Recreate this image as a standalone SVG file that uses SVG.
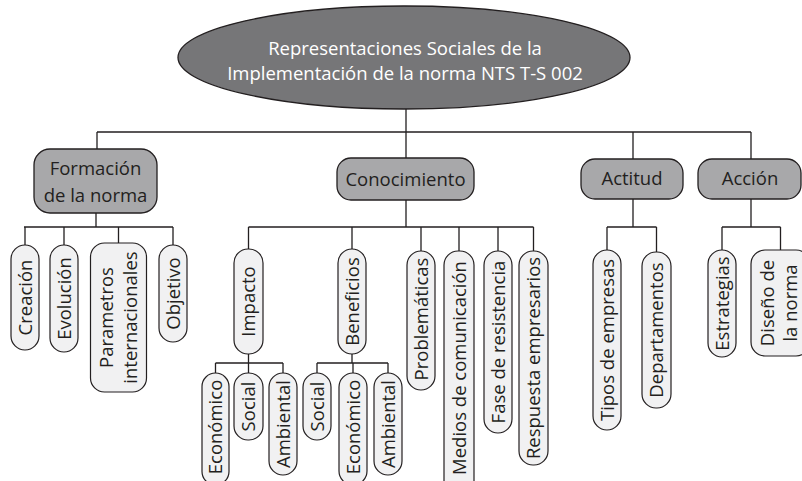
<svg xmlns="http://www.w3.org/2000/svg" width="802" height="481" viewBox="0 0 802 481">
<style>
text{font-family:"Open Sans","Liberation Sans",sans-serif;font-size:18.5px;fill:#231f20;text-anchor:middle}
.root{fill:#767678;stroke:#231f20;stroke-width:1.3}
.root-t{fill:#ffffff}
.cat{fill:#a8a8aa;stroke:#231f20;stroke-width:1.3}
.leaf{fill:#f1f1f2;stroke:#231f20;stroke-width:1.2}
.conn{fill:none;stroke:#231f20;stroke-width:1.3}
</style>
<rect width="802" height="481" fill="#ffffff"/>
<g id="connectors" class="conn">
<path d="M406 109V132M97 132H751M97 132V149M406 132V158M633 132V159M751 132V159"/>
<path d="M96 213V227M24 227H173M25 227V245M64 227V245M118.5 227V243M173 227V245"/>
<path d="M406 200V227M248.5 227H533.5M248.5 227V249M352 227V249M421 227V251M459 227V251M498 227V251M533.5 227V251"/>
<path d="M248.5 354V363M215.5 363H283M215.5 363V373M248.5 363V373M283 363V373"/>
<path d="M352 354V363M317 363H388M317 363V373M353 363V373M388 363V373"/>
<path d="M633 199V227M607 227H656.5M607 227V250M656.5 227V252"/>
<path d="M751 199V227M722 227H780.5M722 227V250M780.5 227V250"/>
</g>
<g id="root">
<ellipse class="root" cx="404" cy="57.5" rx="226" ry="51.5"/>
<text class="root-t" x="405" y="55">Representaciones Sociales de la</text>
<text class="root-t" x="405" y="80">Implementación de la norma NTS T-S 002</text>
</g>
<g id="formacion">
<rect class="cat" x="34" y="149" width="123" height="64" rx="16"/>
<text x="95.5" y="175">Formación</text>
<text x="95.5" y="202">de la norma</text>
</g>
<g id="conocimiento">
<rect class="cat" x="337" y="158" width="137" height="42" rx="14"/>
<text x="405.5" y="186">Conocimiento</text>
</g>
<g id="actitud">
<rect class="cat" x="581" y="159" width="102" height="40" rx="14"/>
<text x="632" y="185">Actitud</text>
</g>
<g id="accion">
<rect class="cat" x="698" y="159" width="103" height="40" rx="14"/>
<text x="750" y="185">Acción</text>
</g>
<g id="creacion">
<rect class="leaf" x="11" y="245" width="28" height="105" rx="14"/>
<text transform="translate(25,297.5) rotate(-90)" y="6.5">Creación</text>
</g>
<g id="evolucion">
<rect class="leaf" x="50" y="245" width="28" height="107" rx="14"/>
<text transform="translate(64,298.5) rotate(-90)" y="6.5">Evolución</text>
</g>
<g id="parametros">
<rect class="leaf" x="90.5" y="243" width="56" height="149" rx="14"/>
<text transform="translate(118.5,317.5) rotate(-90)" y="-5.5">Parametros</text>
<text transform="translate(118.5,317.5) rotate(-90)" y="18.5">internacionales</text>
</g>
<g id="objetivo">
<rect class="leaf" x="159" y="245" width="28" height="97" rx="14"/>
<text transform="translate(173,293.5) rotate(-90)" y="6.5">Objetivo</text>
</g>
<g id="impacto">
<rect class="leaf" x="234" y="249" width="29" height="105" rx="14"/>
<text transform="translate(248.5,301.5) rotate(-90)" y="6.5">Impacto</text>
</g>
<g id="beneficios">
<rect class="leaf" x="338" y="249" width="28" height="105" rx="14"/>
<text transform="translate(352,301.5) rotate(-90)" y="6.5">Beneficios</text>
</g>
<g id="problematicas">
<rect class="leaf" x="407" y="251" width="28" height="139" rx="14"/>
<text transform="translate(421,319) rotate(-90)" y="6.5">Problemáticas</text>
</g>
<g id="medios">
<rect class="leaf" x="444" y="251" width="30" height="250" rx="14"/>
<text transform="translate(459,368) rotate(-90)" y="6.5">Medios de comunicación</text>
</g>
<g id="fase">
<rect class="leaf" x="484" y="251" width="28" height="182" rx="14"/>
<text transform="translate(498,342) rotate(-90)" y="6.5">Fase de resistencia</text>
</g>
<g id="respuesta">
<rect class="leaf" x="519" y="251" width="29" height="214" rx="14"/>
<text transform="translate(533.5,358) rotate(-90)" y="6.5">Respuesta empresarios</text>
</g>
<g id="impacto-economico">
<rect class="leaf" x="202" y="373" width="27" height="112" rx="13.5"/>
<text transform="translate(215.5,427) rotate(-90)" y="6.5">Económico</text>
</g>
<g id="impacto-social">
<rect class="leaf" x="234" y="373" width="29" height="67" rx="14"/>
<text transform="translate(248.5,406.5) rotate(-90)" y="6.5">Social</text>
</g>
<g id="impacto-ambiental">
<rect class="leaf" x="269" y="373" width="28" height="102" rx="14"/>
<text transform="translate(283,424) rotate(-90)" y="6.5">Ambiental</text>
</g>
<g id="beneficios-social">
<rect class="leaf" x="303" y="373" width="28" height="67" rx="14"/>
<text transform="translate(317,406.5) rotate(-90)" y="6.5">Social</text>
</g>
<g id="beneficios-economico">
<rect class="leaf" x="339" y="373" width="28" height="112" rx="14"/>
<text transform="translate(353,427) rotate(-90)" y="6.5">Económico</text>
</g>
<g id="beneficios-ambiental">
<rect class="leaf" x="374" y="373" width="28" height="102" rx="14"/>
<text transform="translate(388,424) rotate(-90)" y="6.5">Ambiental</text>
</g>
<g id="tipos">
<rect class="leaf" x="593" y="250" width="28" height="180" rx="14"/>
<text transform="translate(607,340) rotate(-90)" y="6.5">Tipos de empresas</text>
</g>
<g id="departamentos">
<rect class="leaf" x="642" y="252" width="29" height="156" rx="14"/>
<text transform="translate(656.5,330) rotate(-90)" y="6.5">Departamentos</text>
</g>
<g id="estrategias">
<rect class="leaf" x="708" y="250" width="28" height="107" rx="14"/>
<text transform="translate(722,303.5) rotate(-90)" y="6.5">Estrategias</text>
</g>
<g id="diseno">
<rect class="leaf" x="751" y="250" width="59" height="106" rx="14"/>
<text transform="translate(780,303) rotate(-90)" y="-6">Diseño de</text>
<text transform="translate(780,303) rotate(-90)" y="17">la norma</text>
</g>
</svg>
